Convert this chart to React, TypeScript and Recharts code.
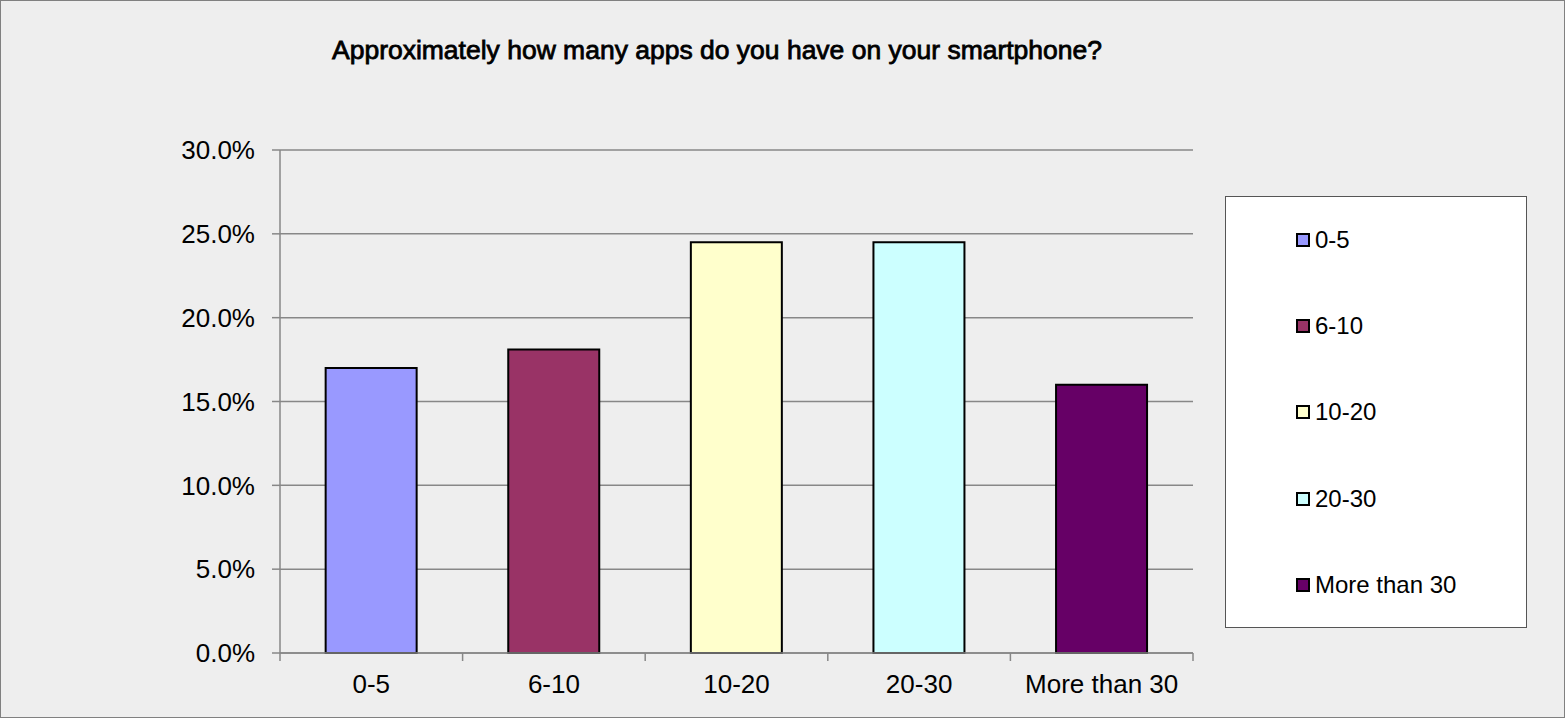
import { Bar, BarChart, CartesianGrid, Cell, Legend, XAxis, YAxis } from "recharts";

const categories = ["0-5", "6-10", "10-20", "20-30", "More than 30"];
const shares = [17.0, 18.1, 24.5, 24.5, 16.0];
const colors = ["#9999FF", "#993366", "#FFFFCC", "#CCFFFF", "#660066"];
const yTicks = [0, 5, 10, 15, 20, 25, 30];
const title = "Approximately how many apps do you have on your smartphone?";

const W = 1565;
const H = 718;
const PLOT_LEFT = 280;
const PLOT_RIGHT = 1193;
const PLOT_TOP = 150;
const PLOT_BOTTOM = 653;
const BAND = (PLOT_RIGHT - PLOT_LEFT) / categories.length;
const FONT = '"Liberation Sans", Arial, sans-serif';
const AXIS_GREY = "#878787";

const data = categories.map((c, i) => ({ name: c, value: shares[i] }));

function XTick(props: any) {
  const { x, index, payload } = props;
  const left = x - BAND / 2;
  const right = x + BAND / 2;
  return (
    <g>
      <line x1={left} x2={left} y1={PLOT_BOTTOM} y2={PLOT_BOTTOM + 8} stroke={AXIS_GREY} strokeWidth={1.5} />
      {index === categories.length - 1 && (
        <line x1={right} x2={right} y1={PLOT_BOTTOM} y2={PLOT_BOTTOM + 8} stroke={AXIS_GREY} strokeWidth={1.5} />
      )}
      <text x={x} y={PLOT_BOTTOM + 40} textAnchor="middle" fontSize={26} fontFamily={FONT} fill="#000">
        {payload.value}
      </text>
    </g>
  );
}

function LegendBox() {
  return (
    <div
      style={{
        width: 302,
        height: 432,
        boxSizing: "border-box",
        background: "#fff",
        border: "1px solid #555",
        fontFamily: FONT,
        fontSize: 24,
        color: "#000",
      }}
    >
      {categories.map((c, i) => (
        <div key={c} style={{ height: 86.2, display: "flex", alignItems: "center", paddingLeft: 70 }}>
          <span
            style={{
              width: 10,
              height: 10,
              border: "2px solid #000",
              background: colors[i],
              marginRight: 5,
              display: "inline-block",
            }}
          />
          <span>{c}</span>
        </div>
      ))}
    </div>
  );
}

export default function App() {
  return (
    <div style={{ position: "absolute", left: 0, top: 0, width: W, height: H, background: "#eeeeee" }}>
      <BarChart
        width={W}
        height={H}
        data={data}
        margin={{ top: PLOT_TOP, right: W - PLOT_RIGHT, bottom: 0, left: 0 }}
        barCategoryGap="25%"
      >
        <CartesianGrid horizontal vertical={false} stroke={AXIS_GREY} strokeWidth={1.5} />
        <XAxis
          dataKey="name"
          height={H - PLOT_BOTTOM}
          axisLine={{ stroke: AXIS_GREY, strokeWidth: 1.5 }}
          tickLine={false}
          tick={<XTick />}
          interval={0}
        />
        <YAxis
          width={PLOT_LEFT}
          domain={[0, 30]}
          ticks={yTicks}
          interval={0}
          tickFormatter={(v: number) => `${v.toFixed(1)}%`}
          axisLine={{ stroke: AXIS_GREY, strokeWidth: 1.5 }}
          tickLine={{ stroke: AXIS_GREY, strokeWidth: 1.5 }}
          tickSize={8}
          tickMargin={17}
          tick={{ fill: "#000", fontSize: 26, fontFamily: FONT }}
        />
        <Legend
          layout="vertical"
          align="center"
          verticalAlign="middle"
          content={() => <LegendBox />}
          wrapperStyle={{ left: 1225, top: 196, width: 302, height: 432 }}
        />
        <Bar dataKey="value" stroke="#000" strokeWidth={2} isAnimationActive={false}>
          {data.map((d, i) => (
            <Cell key={d.name} fill={colors[i]} />
          ))}
        </Bar>
      </BarChart>
      <svg width={W} height={H} style={{ position: "absolute", left: 0, top: 0, pointerEvents: "none" }}>
        <rect x={0.5} y={0.5} width={W - 1} height={H - 1} fill="none" stroke="#808080" strokeWidth={1} />
        <text
          x={717}
          y={59}
          textAnchor="middle"
          fontSize={26}
          fontFamily={FONT}
          fill="#000"
          stroke="#000"
          strokeWidth={0.8}
          textLength={770}
          lengthAdjust="spacingAndGlyphs"
        >
          {title}
        </text>
      </svg>
    </div>
  );
}
